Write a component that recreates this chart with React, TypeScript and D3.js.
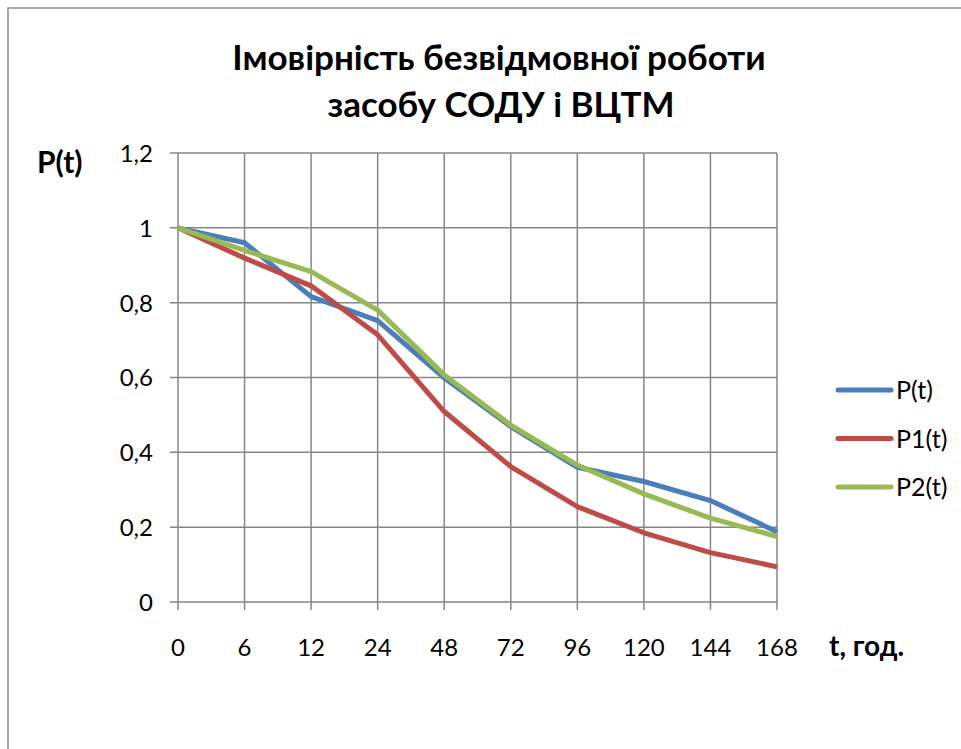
import { line, scaleLinear, scalePoint } from "d3";
import React from "react";

const categories = ["0", "6", "12", "24", "48", "72", "96", "120", "144", "168"];
const pT = [1.0, 0.96, 0.816, 0.752, 0.599, 0.469, 0.36, 0.322, 0.271, 0.188];
const p1T = [1.0, 0.919, 0.845, 0.714, 0.509, 0.362, 0.255, 0.185, 0.132, 0.094];
const p2T = [1.0, 0.94, 0.883, 0.78, 0.607, 0.473, 0.366, 0.289, 0.224, 0.175];
const yTicks = [0, 0.2, 0.4, 0.6, 0.8, 1, 1.2];

const seriesNames = ["P(t)", "P1(t)", "P2(t)"];
const seriesColors = ["#4a7ebb", "#be4b48", "#98b954"];
const seriesData = [pT, p1T, p2T];

const width = 961;
const height = 749;
const plot = { left: 178, right: 777, top: 153, bottom: 602 };
const font = "Lato, 'Open Sans', sans-serif";

const xScale = scalePoint<string>()
  .domain(categories)
  .range([plot.left, plot.right]);
const yScale = scaleLinear().domain([0, 1.2]).range([plot.bottom, plot.top]);

const fmt = (v: number) => String(Math.round(v * 10) / 10).replace(".", ",");

export default function App() {
  const path = line<number>()
    .x((_, i) => xScale(categories[i])!)
    .y((d) => yScale(d));

  return (
    <svg
      width={width}
      height={height}
      viewBox={`0 0 ${width} ${height}`}
      style={{ position: "absolute", left: 0, top: 0, background: "white" }}
    >
      <rect x={8} y={8} width={1000} height={800} fill="white" stroke="#8c8c8c" strokeWidth={1.5} />

      <text x={499} y={70} textAnchor="middle" fontFamily={font} fontWeight="bold" fontSize={35}>
        Імовірність безвідмовної роботи
      </text>
      <text x={501} y={117} textAnchor="middle" fontFamily={font} fontWeight="bold" fontSize={35}>
        засобу СОДУ і ВЦТМ
      </text>

      {/* grid */}
      {yTicks.map((t) => (
        <line key={"gy" + t} x1={plot.left - 8} x2={plot.right} y1={yScale(t)} y2={yScale(t)} stroke="#868686" strokeWidth={1.5} />
      ))}
      {categories.map((c) => (
        <line key={"gx" + c} x1={xScale(c)} x2={xScale(c)} y1={plot.top} y2={plot.bottom + 8} stroke="#868686" strokeWidth={1.5} />
      ))}

      {yTicks.map((t) => (
        <text key={"ty" + t} x={153} y={yScale(t)} dy="0.37em" textAnchor="end" fontFamily={font} fontSize={24}>
          {fmt(t)}
        </text>
      ))}
      {categories.map((c) => (
        <text key={"tx" + c} x={xScale(c)} y={656} textAnchor="middle" fontFamily={font} fontSize={24}>
          {c}
        </text>
      ))}

      <text x={37} y={173} fontFamily={font} fontWeight="bold" fontSize={30}>
        P(t)
      </text>
      <text x={829} y={656} fontFamily={font} fontWeight="bold" fontSize={28}>
        t, год.
      </text>

      {seriesData.map((d, i) => (
        <path key={seriesNames[i]} d={path(d) ?? ""} fill="none" stroke={seriesColors[i]} strokeWidth={5} strokeLinejoin="round" />
      ))}

      {seriesNames.map((n, i) => {
        const y = 390 + i * 48.5;
        return (
          <g key={"lg" + n}>
            <line x1={838} x2={891} y1={y} y2={y} stroke={seriesColors[i]} strokeWidth={5} strokeLinecap="round" />
            <text x={896} y={y} dy="0.36em" fontFamily={font} fontSize={25}>
              {n}
            </text>
          </g>
        );
      })}
    </svg>
  );
}
